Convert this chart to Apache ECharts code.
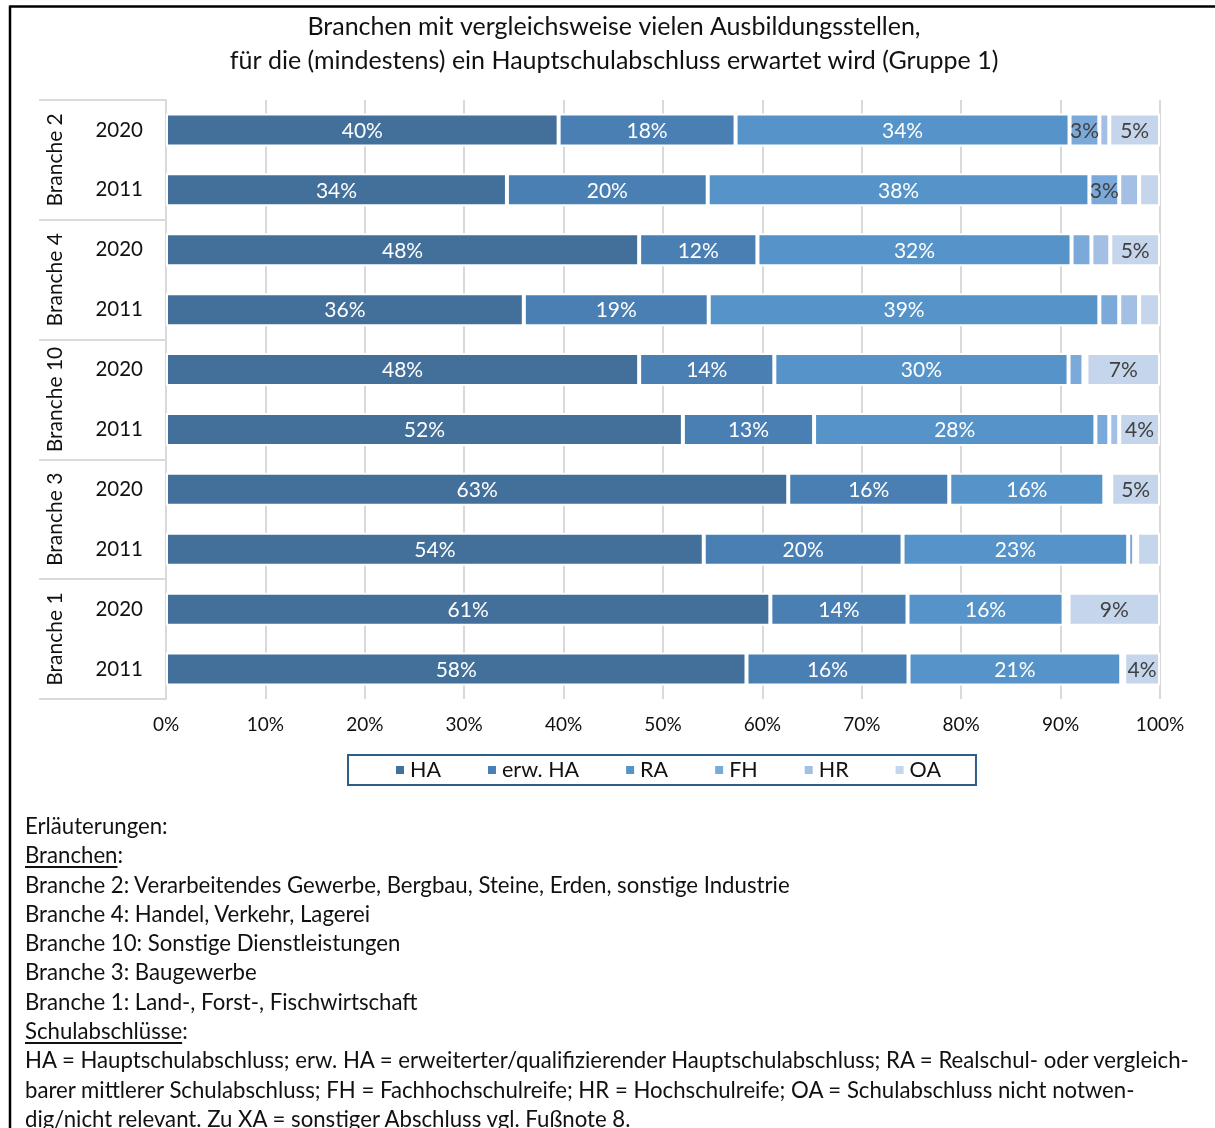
<!DOCTYPE html>
<html lang="de">
<head>
<meta charset="utf-8">
<title>Branchen – Schulabschlüsse</title>
<script src="https://cdn.jsdelivr.net/npm/echarts@6/dist/echarts.min.js"></script>
<style>
  html, body { margin: 0; padding: 0; background: #fff; }
  #wrap { position: relative; width: 1215px; height: 1128px; overflow: hidden; }
  #chart { position: absolute; left: 0; top: 0; width: 1215px; height: 1128px; }
  #notes {
    position: absolute; left: 25px; top: 811px;
    font-family: Lato, "Noto Sans", sans-serif; font-size: 22.2px; line-height: 29.3px;
    color: #111; white-space: pre;
  }
  #notes u { text-decoration-thickness: 1.5px; text-underline-offset: 3px; }
</style>
</head>
<body>
<div id="wrap">
  <div id="chart"></div>
  <div id="notes">Erläuterungen:
<u>Branchen</u>:
Branche 2: Verarbeitendes Gewerbe, Bergbau, Steine, Erden, sonstige Industrie
Branche 4: Handel, Verkehr, Lagerei
Branche 10: Sonstige Dienstleistungen
Branche 3: Baugewerbe
Branche 1: Land-, Forst-, Fischwirtschaft
<u>Schulabschlüsse</u>:
HA = Hauptschulabschluss; erw. HA = erweiterter/qualifizierender Hauptschulabschluss; RA = Realschul- oder vergleich-
barer mittlerer Schulabschluss; FH = Fachhochschulreife; HR = Hochschulreife; OA = Schulabschluss nicht notwen-
dig/nicht relevant. Zu XA = sonstiger Abschluss vgl. Fußnote 8.</div>
</div>
<script>
// Branchen (top to bottom) and survey years within each Branche
var groups = ['Branche 2', 'Branche 4', 'Branche 10', 'Branche 3', 'Branche 1'];
var years = ['2020', '2011'];

// Share of training places by required school leaving certificate, in percent
// (one value per row: Branche 2 2020, Branche 2 2011, Branche 4 2020, ...)
var HA    = [39.5, 34.3, 47.6, 36.0, 47.6, 52.0, 62.6, 54.1, 60.8, 58.4];
var erwHA = [17.8, 20.2, 11.9, 18.6, 13.6, 13.2, 16.2, 20.0, 13.8, 16.3];
var RA    = [33.6, 38.4, 31.6, 39.3, 29.6, 28.3, 15.6, 22.7, 15.7, 21.4];
var FH    = [ 3.0,  3.0,  2.0,  2.0,  1.5,  1.4,  0.3,  0.6,  0.3,  0.2];
var HR    = [ 1.0,  2.0,  1.9,  2.0,  0.3,  1.0,  0.4,  0.3,  0.2,  0.1];
var OA    = [ 5.1,  2.1,  5.0,  2.1,  7.4,  4.1,  4.9,  2.3,  9.2,  3.6];

var xTicks = [0, 10, 20, 30, 40, 50, 60, 70, 80, 90, 100];

var seriesNames = ['HA', 'erw. HA', 'RA', 'FH', 'HR', 'OA'];
var seriesData = [HA, erwHA, RA, FH, HR, OA];
var seriesColors = ['#43709B', '#4A7FB3', '#5593C8', '#7AA9DA', '#A3BFE4', '#C5D5EB'];
var labelColors = ['#ffffff', '#ffffff', '#ffffff', '#404040', '#404040', '#404040'];

var FONT = 'Lato, "Noto Sans", sans-serif';
var TEXT = '#111111';
var GRID_GRAY = '#d9d9d9';

// one category per Branche/year row
var rowKeys = [];
groups.forEach(function (g) {
  years.forEach(function (y) { rowKeys.push(g + '|' + y); });
});

var series = seriesNames.map(function (name, i) {
  return {
    name: name,
    type: 'bar',
    stack: 'total',
    yAxisIndex: 0,
    barWidth: 33,
    data: seriesData[i],
    itemStyle: { color: seriesColors[i], borderColor: '#ffffff', borderWidth: 2 },
    label: {
      show: true,
      position: 'inside',
      fontFamily: FONT,
      fontSize: 21,
      color: labelColors[i],
      offset: [0, 1],
      formatter: function (p) { return p.value >= 2.5 ? Math.round(p.value) + '%' : ''; }
    },
    emphasis: { disabled: true }
  };
});

var chart = echarts.init(document.getElementById('chart'), null, { renderer: 'canvas' });
chart.setOption({
  animation: false,
  backgroundColor: '#ffffff',
  textStyle: { fontFamily: FONT },
  title: {
    text: 'Branchen mit vergleichsweise vielen Ausbildungsstellen,\nfür die (mindestens) ein Hauptschulabschluss erwartet wird (Gruppe 1)',
    left: 614,
    textAlign: 'center',
    top: 10,
    padding: 0,
    textStyle: { fontFamily: FONT, fontSize: 25, fontWeight: 'normal', color: TEXT, lineHeight: 34 }
  },
  legend: {
    data: seriesNames,
    left: 348,
    top: 755,
    icon: 'rect',
    itemWidth: 10,
    itemHeight: 10,
    itemGap: 45,
    padding: [4, 35, 4, 46],
    borderColor: '#2F5D8A',
    borderWidth: 2,
    textStyle: { fontFamily: FONT, fontSize: 21.5, color: TEXT }
  },
  grid: { left: 166, right: 55, top: 100, height: 599, containLabel: false },
  xAxis: {
    type: 'value',
    min: xTicks[0],
    max: xTicks[xTicks.length - 1],
    interval: xTicks[1] - xTicks[0],
    axisLine: { show: false },
    axisTick: { show: false },
    splitLine: { show: true, lineStyle: { color: GRID_GRAY, width: 2 } },
    axisLabel: { formatter: '{value}%', fontFamily: FONT, fontSize: 19, color: TEXT, margin: 16 }
  },
  yAxis: [
    {
      type: 'category',
      data: rowKeys,
      inverse: true,
      position: 'left',
      axisLine: { show: true, lineStyle: { color: GRID_GRAY, width: 2 } },
      axisTick: { show: false },
      axisLabel: {
        interval: 0,
        fontFamily: FONT, fontSize: 20.5, color: TEXT, margin: 23,
        formatter: function (v) { return v.split('|')[1]; }
      }
    },
    {
      type: 'category',
      data: groups,
      inverse: true,
      position: 'left',
      offset: 0,
      axisLine: { show: false },
      axisTick: { show: true, interval: 0, length: 127, lineStyle: { color: GRID_GRAY, width: 2 } },
      axisLabel: { interval: 0, rotate: 90, fontFamily: FONT, fontSize: 21, color: TEXT, margin: 100 }
    }
  ],
  graphic: [
    { type: 'line', shape: { x1: 10, y1: 6.5, x2: 1215, y2: 6.5 }, style: { stroke: '#000', lineWidth: 2.5 } },
    { type: 'line', shape: { x1: 10, y1: 5.5, x2: 10, y2: 1128 }, style: { stroke: '#000', lineWidth: 2.5 } }
  ],
  series: series
});
</script>
</body>
</html>
